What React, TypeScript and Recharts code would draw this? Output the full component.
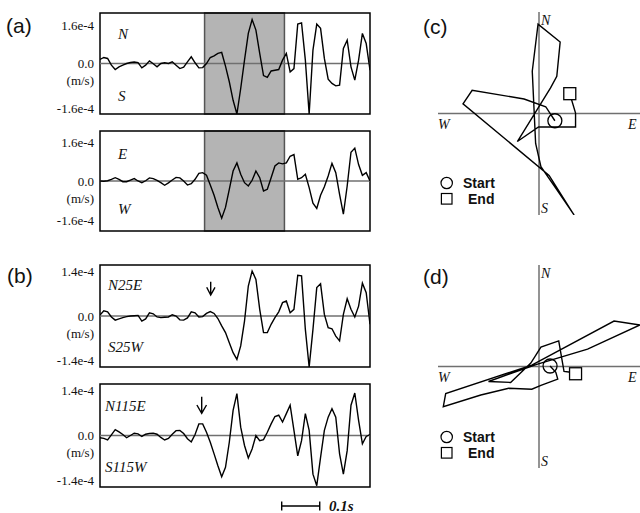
import React from 'react'
import { LineChart, Line, XAxis, YAxis, ReferenceArea, ReferenceLine } from 'recharts'

// velocity in units of 1e-4 m/s, one sample every 0.01 s
const SAMPLE_STEP = 0.01
const DURATION = 0.71
const WINDOW_A = [0.275, 0.485]
const SCALE_BAR = 0.1

const NS_A = [
  0.17, 0.25, 0.21, -0.07, -0.25, -0.14, -0.07, 0.0, 0.04, 0.06,
  0.04, -0.18, -0.07, 0.11, -0.01, -0.14, 0.0, 0.03, 0.0, 0.07,
  -0.07, -0.21, -0.15, 0.07, 0.28, 0.03, -0.18, -0.17, 0.0, 0.25,
  0.32, 0.42, 0.46, -0.11, -0.76, -1.53, -2.1, -1.04, 0.14, 1.25,
  1.83, 1.39, 0.42, -0.5, -0.58, -0.31, -0.28, -0.25, 0.14, 0.42,
  -0.35, -0.21, 1.64, 1.69, 0.14, -2.1, 0.56, 1.64, 1.46, 0.21,
  -0.65, -0.83, -0.93, -0.9, 0.63, 0.97, -0.14, -0.69, 0.14, 1.25,
  0.83, -0.28,
]

const EW_A = [
  0, -0.01, 0.01, 0.07, 0.14, 0.07, -0.03, -0.03, 0.04, 0.1,
  0, -0.07, 0.01, 0.13, 0.1, 0.03, -0.07, -0.18, -0.08, 0.04,
  0.15, 0.13, 0, -0.17, -0.11, 0.07, 0.32, 0.35, 0.24, -0.17,
  -0.6, -1.11, -1.56, -1.11, -0.35, 0.42, 0.76, 0.28, -0.07, -0.21,
  0.03, 0.42, 0.14, -0.42, -0.35, 0.14, 0.63, 0.76, 0.72, 0.76,
  1.04, 1.11, 0.07, 0.14, 0.28, -0.28, -0.93, -1.15, -0.6, -0.24,
  0.21, 0.74, 0.35, -0.56, -1.39, -0.21, 1.21, 1.38, 0.69, 0.24,
  0.35, 0,
]

const N25E_B = [
  0.03, 0.16, 0.13, -0.03, -0.13, -0.09, -0.05, -0.02, 0, 0.01,
  0.02, -0.16, -0.09, 0.1, 0.07, -0.03, -0.05, -0.04, -0.03, 0.04,
  0, -0.12, -0.13, -0.06, 0.13, 0.1, -0.03, -0.02, 0.08, 0.14,
  0.08, -0.08, -0.31, -0.52, -0.84, -1.15, -1.36, -0.94, -0.16, 0.94,
  1.41, 1.15, 0.21, -0.52, -0.52, -0.26, -0.05, 0.13, 0.42, 0.47,
  0.1, 0.21, 1.28, 1.26, -0.42, -1.6, -0.42, 0.89, 1.01, 0.05,
  -0.37, -0.4, -0.63, -0.78, 0.05, 0.54, 0.21, -0.03, 0.31, 1.03,
  0.73, -0.26,
]

const N115E_B = [
  -0.07, -0.09, -0.14, 0.02, 0.18, 0.11, 0.03, -0.07, 0, 0.07,
  0.05, -0.03, 0.04, 0.06, 0.07, 0.04, -0.06, -0.14, -0.09, 0.04,
  0.15, 0.16, 0.06, -0.1, -0.2, 0.03, 0.36, 0.36, 0.1, -0.21,
  -0.57, -0.94, -1.28, -0.99, -0.21, 0.78, 1.3, 0.26, -0.31, -0.7,
  -0.42, 0, -0.16, -0.13, 0.1, 0.36, 0.59, 0.63, 0.42, 0.68,
  0.94, 0.16, -0.63, -0.16, 0.68, 0.16, -1.2, -1.56, -0.68, 0.16,
  0.57, 0.83, 0.57, -0.57, -1.2, -0.47, 0.94, 1.32, 0.47, -0.26,
  -0.03, 0.03,
]

// particle motion (E, N) in the same units
const PM_C_E = [0.33, 0.14, -0.31, -1.39, -1.58, 0.21, 0.73, 0.38, 0.04, -0.07, -0.14, -0.02, 0.44, 0.37, 0.24, -0.45, -0.01, 0.76, 0.76, 0.64]
const PM_C_N = [-0.15, 0.14, 0.3, 0.48, 0.2, -1.28, -2.1, -1.59, -1.1, -0.62, 0.875, 1.85, 1.48, 0.77, 0.53, -0.58, -0.28, -0.28, 0.01, 0.41]

const PM_D_E = [0.23, 0.35, 0.39, 0.04, -0.15, -0.63, -1.21, -1.99, -1.94, -0.15, 1.56, 2.1, 1.01, -0.03, -1.05, -0.59, -0.17, 0.04, 0.41, 0.52, 0.66, 0.76]
const PM_D_N = [0.01, -0.12, -0.26, -0.39, -0.47, -0.45, -0.59, -0.83, -0.56, 0.03, 0.94, 0.86, 0.36, 0.05, -0.31, -0.33, 0.07, 0.4, 0.53, -0.1, -0.12, -0.15]

const SERIF = "'Liberation Serif', 'Times New Roman', serif"
const SANS = "'Liberation Sans', Arial, sans-serif"
const BOX_LEFT = 100
const BOX_RIGHT = 370
const PM_LIMIT = 2.1

function AmpTick(props: any) {
  const { x, y, payload, negDy = 0 } = props
  const v = payload.value as number
  const label = v === 0 ? '0.0' : `${v < 0 ? '-' : ''}${Math.abs(v).toFixed(1)}e-4`
  const dy = v < 0 ? negDy : 0
  return (
    <g>
      <text x={x} y={y + dy} dy="0.35em" textAnchor="end" fontFamily={SERIF} fontSize={13} fill="#111">
        {label}
      </text>
      {v === 0 && (
        <text x={x} y={y + 17} dy="0.35em" textAnchor="end" fontFamily={SERIF} fontSize={13} fill="#111">
          (m/s)
        </text>
      )}
    </g>
  )
}

interface TraceProps {
  top: number
  height: number
  values: number[]
  limit: number
  tick: number
  negDy?: number
  shade?: number[]
}

function Trace({ top, height, values, limit, tick, negDy = 0, shade }: TraceProps) {
  const rows = values.map((v, i) => ({ t: +(i * SAMPLE_STEP).toFixed(2), v }))
  return (
    <div style={{ position: 'absolute', left: 0, top: top - 10 }}>
      <LineChart width={BOX_RIGHT + 10} height={height + 20} data={rows} margin={{ top: 10, right: 10, bottom: 10, left: BOX_LEFT - 60 }}>
        <XAxis type="number" dataKey="t" domain={[0, DURATION]} hide allowDataOverflow />
        <YAxis
          type="number"
          domain={[-limit, limit]}
          ticks={[-tick, 0, tick]}
          width={60}
          tickSize={0}
          tickMargin={6}
          axisLine={false}
          tickLine={false}
          allowDataOverflow
          tick={<AmpTick negDy={negDy} />}
        />
        {shade && (
          <ReferenceArea x1={shade[0]} x2={shade[1]} y1={-limit} y2={limit} fill="#b4b4b4" fillOpacity={1} stroke="#555" strokeWidth={1.5} />
        )}
        <ReferenceLine y={0} stroke="#707070" strokeWidth={1.5} />
        <Line type="linear" dataKey="v" stroke="#000" strokeWidth={1.4} dot={false} isAnimationActive={false} />
        <ReferenceArea x1={0} x2={DURATION} y1={-limit} y2={limit} fill="none" stroke="#000" strokeWidth={1.5} ifOverflow="visible" />
      </LineChart>
    </div>
  )
}

function Hodogram({ top, east, north }: { top: number; east: number[]; north: number[] }) {
  const rows = east.map((e, i) => ({ e, n: north[i] }))
  const last = rows.length - 1
  const renderDot = (p: any) => {
    const { cx, cy, index } = p
    if (index === 0) return <circle key="start" cx={cx} cy={cy} r={7} fill="none" stroke="#000" strokeWidth={1.3} />
    if (index === last) return <rect key="end" x={cx - 6} y={cy - 6} width={12} height={12} fill="#fff" stroke="#000" strokeWidth={1.3} />
    return <g key={index} />
  }
  return (
    <div style={{ position: 'absolute', left: 430, top }}>
      <LineChart width={210} height={230} data={rows} margin={{ top: 12, right: 0, bottom: 15, left: 8 }}>
        <XAxis type="number" dataKey="e" domain={[-PM_LIMIT, PM_LIMIT]} hide allowDataOverflow />
        <YAxis type="number" domain={[-PM_LIMIT, PM_LIMIT]} hide allowDataOverflow />
        <ReferenceLine x={0} stroke="#707070" strokeWidth={1.5} />
        <ReferenceLine y={0} stroke="#707070" strokeWidth={1.5} />
        <Line type="linear" dataKey="n" stroke="#000" strokeWidth={1.4} dot={renderDot} isAnimationActive={false} />
      </LineChart>
    </div>
  )
}

function Legend2({ y }: { y: number }) {
  return (
    <g fontFamily={SANS} fontSize={14} fontWeight="bold" fill="#111">
      <circle cx={446.7} cy={y} r={5.7} fill="none" stroke="#000" strokeWidth={1.2} />
      <text x={463} y={y + 5}>Start</text>
      <rect x={441.4} y={y + 10.5} width={10.6} height={10.6} fill="#fff" stroke="#000" strokeWidth={1.2} />
      <text x={468} y={y + 21}>End</text>
    </g>
  )
}

function Compass({ top }: { top: number }) {
  return (
    <g fontFamily={SERIF} fontStyle="italic" fontSize={14} fill="#111">
      <text x={541} y={top + 13}>N</text>
      <text x={541} y={top + 201}>S</text>
      <text x={438} y={top + 117}>W</text>
      <text x={628} y={top + 117}>E</text>
    </g>
  )
}

export default function App() {
  const pxPerSec = (BOX_RIGHT - BOX_LEFT) / DURATION
  const barX0 = 281.7
  const barX1 = barX0 + SCALE_BAR * pxPerSec
  return (
    <div style={{ position: 'absolute', left: 0, top: 0, width: 640, height: 513, background: '#fff' }}>
      <Trace top={13} height={101} values={NS_A} limit={2.1} tick={1.6} negDy={6} shade={WINDOW_A} />
      <Trace top={131} height={100} values={EW_A} limit={2.1} tick={1.6} negDy={1} shade={WINDOW_A} />
      <Trace top={265} height={102} values={N25E_B} limit={1.6} tick={1.4} />
      <Trace top={384} height={103} values={N115E_B} limit={1.6} tick={1.4} />
      <Hodogram top={0} east={PM_C_E} north={PM_C_N} />
      <Hodogram top={253} east={PM_D_E} north={PM_D_N} />
      <svg width={640} height={513} style={{ position: 'absolute', left: 0, top: 0, pointerEvents: 'none' }}>
        <g fontFamily={SANS} fontSize={21} fill="#111">
          <text x={6} y={33}>(a)</text>
          <text x={7} y={283}>(b)</text>
          <text x={423} y={34}>(c)</text>
          <text x={423} y={284}>(d)</text>
        </g>
        <g fontFamily={SERIF} fontStyle="italic" fontSize={15} fill="#111">
          <text x={118} y={39}>N</text>
          <text x={118} y={101}>S</text>
          <text x={118} y={159}>E</text>
          <text x={118} y={214}>W</text>
          <text x={108} y={290}>N25E</text>
          <text x={108} y={352}>S25W</text>
          <text x={105} y={411}>N115E</text>
          <text x={105} y={472}>S115W</text>
        </g>
        <g stroke="#000" strokeWidth={1.4} fill="none">
          <path d="M210.7 281.7 V295 M206.7 287.3 L210.7 295 L215 287.3" />
          <path d="M201.7 396.7 V413.3 M196.9 405 L201.7 413.3 L206.5 405" />
          <path d={`M${barX0} 506 H${barX1} M${barX0} 501.5 V510.5 M${barX1} 501.5 V510.5`} />
        </g>
        <text x={329} y={511} fontFamily={SERIF} fontStyle="italic" fontWeight="bold" fontSize={15} fill="#111">
          0.1s
        </text>
        <Compass top={12} />
        <Compass top={265} />
        <Legend2 y={183} />
        <Legend2 y={437} />
      </svg>
    </div>
  )
}
